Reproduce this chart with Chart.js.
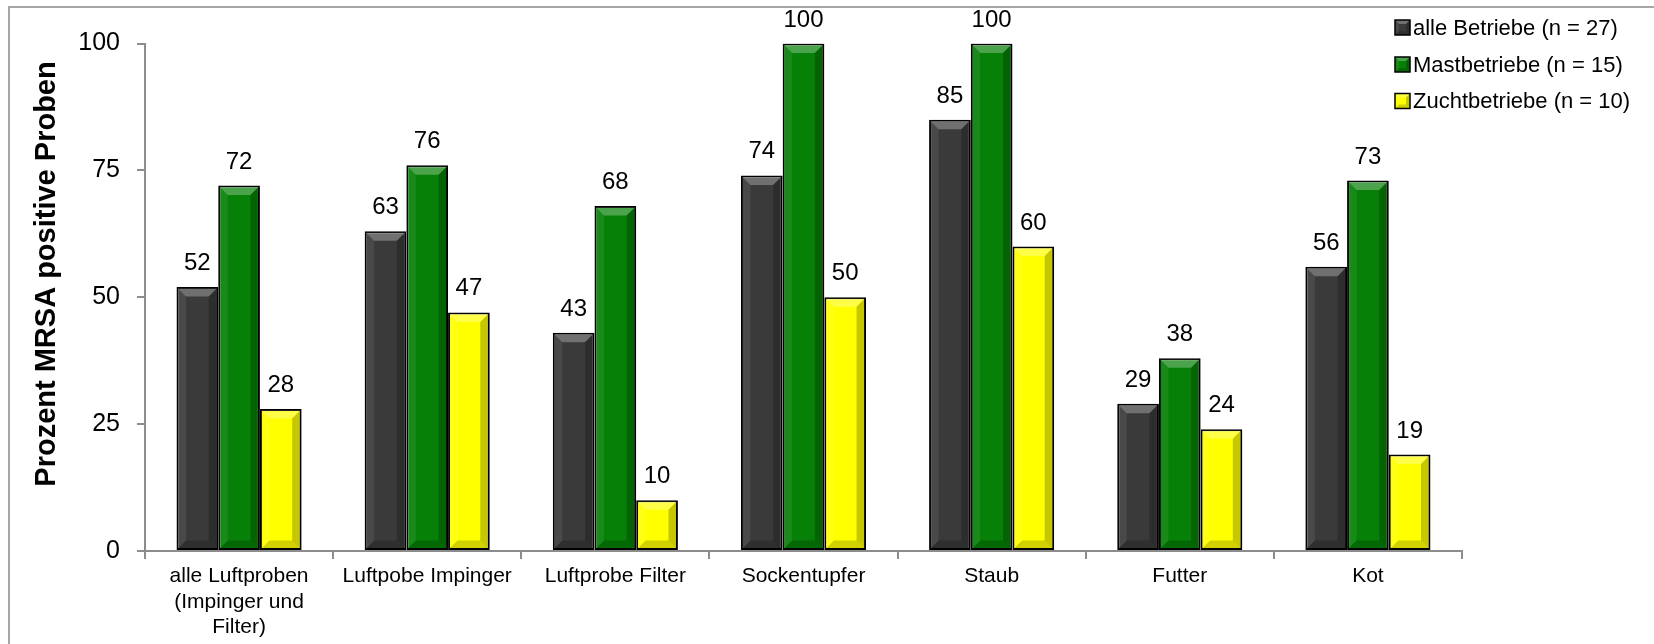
<!DOCTYPE html>
<html lang="de">
<head>
<meta charset="utf-8">
<title>Prozent MRSA positive Proben</title>
<script src="https://cdn.jsdelivr.net/npm/chart.js@4.4.1/dist/chart.umd.min.js"></script>
<style>
  html, body { margin: 0; padding: 0; background: #ffffff; }
  #wrap { width: 1654px; height: 644px; position: relative; }
  canvas { display: block; }
</style>
</head>
<body>
<div id="wrap"><canvas id="chart" width="1654" height="644"></canvas></div>
<script>
// Probenarten (Kategorien der x-Achse)
const categories = [
  ['alle Luftproben', '(Impinger und', 'Filter)'],
  'Luftpobe Impinger',
  'Luftprobe Filter',
  'Sockentupfer',
  'Staub',
  'Futter',
  'Kot'
];

// Anteil MRSA-positiver Proben in Prozent
const alleBetriebe = [52, 63, 43, 74, 85, 29, 56];
const mastBetriebe = [72, 76, 68, 100, 100, 38, 73];
const zuchtBetriebe = [28, 47, 10, 50, 60, 24, 19];

const seriesLabels = ['alle Betriebe (n = 27)', 'Mastbetriebe (n = 15)', 'Zuchtbetriebe (n = 10)'];
const seriesColors = ['#3a3a3a', '#068006', '#ffff00'];

const yTicks = [0, 25, 50, 75, 100];
const yTitle = 'Prozent MRSA positive Proben';

const FONT = '"Liberation Sans", Arial, Helvetica, sans-serif';

// Abgeschrägte Kanten (Bevel) auf einem Rechteck
function drawBevel(ctx, left, top, right, bottom, b) {
  const w = right - left, h = bottom - top;
  const bb = Math.min(b, w / 2, h / 2);
  if (bb <= 0) return;
  ctx.save();
  // oben hell
  ctx.fillStyle = 'rgba(255,255,255,0.28)';
  ctx.beginPath();
  ctx.moveTo(left, top); ctx.lineTo(right, top);
  ctx.lineTo(right - bb, top + bb); ctx.lineTo(left + bb, top + bb);
  ctx.closePath(); ctx.fill();
  // links leicht hell
  ctx.fillStyle = 'rgba(255,255,255,0.08)';
  ctx.beginPath();
  ctx.moveTo(left, top); ctx.lineTo(left + bb, top + bb);
  ctx.lineTo(left + bb, bottom - bb); ctx.lineTo(left, bottom);
  ctx.closePath(); ctx.fill();
  // rechts dunkel
  ctx.fillStyle = 'rgba(0,0,0,0.22)';
  ctx.beginPath();
  ctx.moveTo(right, top); ctx.lineTo(right - bb, top + bb);
  ctx.lineTo(right - bb, bottom - bb); ctx.lineTo(right, bottom);
  ctx.closePath(); ctx.fill();
  // unten dunkel
  ctx.fillStyle = 'rgba(0,0,0,0.18)';
  ctx.beginPath();
  ctx.moveTo(left, bottom); ctx.lineTo(left + bb, bottom - bb);
  ctx.lineTo(right - bb, bottom - bb); ctx.lineTo(right, bottom);
  ctx.closePath(); ctx.fill();
  ctx.restore();
}

// Rahmen um die gesamte Grafik
const framePlugin = {
  id: 'frame',
  beforeDraw(chart) {
    const ctx = chart.ctx;
    ctx.save();
    ctx.fillStyle = '#ffffff';
    ctx.fillRect(0, 0, chart.width, chart.height);
    ctx.strokeStyle = '#a6a6a6';
    ctx.lineWidth = 2;
    ctx.strokeRect(9, 7, chart.width + 20, chart.height + 20);
    ctx.restore();
  }
};

// Achsentitel der y-Achse (senkrecht, leicht nach oben versetzt)
const yTitlePlugin = {
  id: 'yTitle',
  afterDraw(chart) {
    const ctx = chart.ctx;
    ctx.save();
    ctx.translate(47, 274);
    ctx.rotate(-Math.PI / 2);
    ctx.font = 'bold 29px ' + FONT;
    ctx.fillStyle = '#000000';
    ctx.textAlign = 'center';
    ctx.textBaseline = 'middle';
    ctx.fillText(yTitle, 0, 0);
    ctx.restore();
  }
};

// Bevel-Effekt auf den Balken und Werte darüber
const barDecorPlugin = {
  id: 'barDecor',
  afterDatasetsDraw(chart) {
    const ctx = chart.ctx;
    chart.data.datasets.forEach((ds, di) => {
      const meta = chart.getDatasetMeta(di);
      meta.data.forEach((bar, i) => {
        const p = bar.getProps(['x', 'y', 'base', 'width'], true);
        const left = p.x - p.width / 2, right = p.x + p.width / 2;
        drawBevel(ctx, left + 1.5, p.y + 1.5, right - 1.5, p.base - 1.5, 8);
        ctx.save();
        ctx.font = '24px ' + FONT;
        ctx.fillStyle = '#000000';
        ctx.textAlign = 'center';
        ctx.textBaseline = 'alphabetic';
        ctx.fillText(String(ds.data[i]), p.x, p.y - 17);
        ctx.restore();
      });
    });
  }
};

// Legende oben rechts
const legendPlugin = {
  id: 'cornerLegend',
  afterDraw(chart) {
    const ctx = chart.ctx;
    const x0 = 1395, rows = [27.5, 64.5, 101];
    chart.data.datasets.forEach((ds, i) => {
      const cy = rows[i];
      ctx.save();
      ctx.fillStyle = ds.backgroundColor;
      ctx.fillRect(x0, cy - 7.5, 15, 15);
      drawBevel(ctx, x0, cy - 7.5, x0 + 15, cy + 7.5, 4);
      ctx.strokeStyle = '#000000';
      ctx.lineWidth = 1.5;
      ctx.strokeRect(x0, cy - 7.5, 15, 15);
      ctx.font = '22px ' + FONT;
      ctx.fillStyle = '#000000';
      ctx.textAlign = 'left';
      ctx.textBaseline = 'middle';
      ctx.fillText(ds.label, x0 + 18, cy + 1);
      ctx.restore();
    });
  }
};

const datasets = [alleBetriebe, mastBetriebe, zuchtBetriebe].map((values, i) => ({
  label: seriesLabels[i],
  data: values,
  backgroundColor: seriesColors[i],
  borderColor: '#000000',
  borderWidth: 2,
  borderSkipped: false,
  categoryPercentage: 0.665,
  barPercentage: 1.0
}));

new Chart(document.getElementById('chart'), {
  type: 'bar',
  data: { labels: categories, datasets },
  options: {
    responsive: false,
    animation: false,
    devicePixelRatio: 1,
    layout: { padding: { top: 43.5, right: 192, bottom: 0, left: 0 } },
    plugins: {
      legend: { display: false },
      tooltip: { enabled: false }
    },
    scales: {
      x: {
        offset: true,
        grid: {
          offset: true,
          drawOnChartArea: false,
          drawTicks: true,
          tickLength: 8,
          color: '#8c8c8c',
          lineWidth: 2
        },
        border: { display: true, color: '#8c8c8c', width: 2 },
        ticks: {
          color: '#000000',
          font: { family: FONT, size: 21 },
          padding: 5,
          maxRotation: 0,
          autoSkip: false
        },
        afterFit(scale) { scale.height = 93; }
      },
      y: {
        min: 0,
        max: 100,
        afterBuildTicks(scale) { scale.ticks = yTicks.map(v => ({ value: v })); },
        grid: {
          drawOnChartArea: false,
          drawTicks: true,
          tickLength: 8,
          color: '#8c8c8c',
          lineWidth: 2
        },
        border: { display: true, color: '#8c8c8c', width: 2 },
        ticks: {
          color: '#000000',
          font: { family: FONT, size: 25 },
          padding: 17
        },
        afterFit(scale) { scale.width = 145; }
      }
    }
  },
  plugins: [framePlugin, barDecorPlugin, legendPlugin, yTitlePlugin]
});
</script>
</body>
</html>
